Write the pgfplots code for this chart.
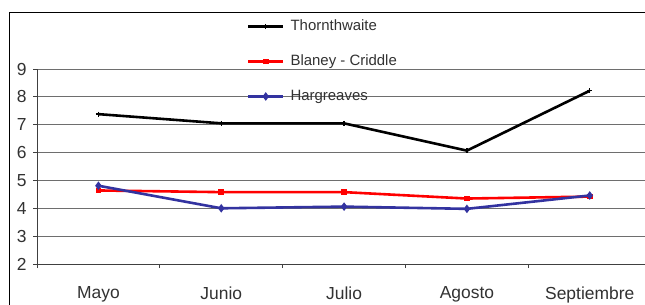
\documentclass[border=0pt]{standalone}
\usepackage{fontspec}
\setmainfont{Liberation Sans}
\usepackage{pgfplots}
\pgfplotsset{compat=1.18}
\definecolor{hblue}{RGB}{51,51,160}
\definecolor{gridc}{RGB}{110,110,110}
\definecolor{txt}{RGB}{50,50,50}
\begin{document}
\begin{tikzpicture}[x=1bp,y=1bp]
\useasboundingbox (0,0) rectangle (645,304);
\clip (0,0) rectangle (645,304);
\fill[white] (0,0) rectangle (645,304);
\draw[line width=1.3bp] (9.5,-10) -- (9.5,291.5) -- (660,291.5);
\begin{axis}[
  at={(37bp,40bp)}, anchor=south west,
  scale only axis, width=608bp, height=195bp,
  xmin=-0.5, xmax=4.45, ymin=2, ymax=9,
  ytick={2,...,9},
  xtick={-0.5,0.5,1.5,2.5,3.5},
  xticklabels={},
  extra x ticks={0,1,2,3,4},
  extra x tick labels={Mayo,Junio,Julio,Agosto,Septiembre},
  extra x tick style={major tick length=0pt, grid=none},
  ymajorgrids, grid style={draw=gridc, line width=0.9bp},
  axis x line*=bottom, axis y line*=left,
  every outer x axis line/.append style={-, draw=black!75, line width=0.9bp},
  every outer y axis line/.append style={-, draw=black!75, line width=0.9bp},
  tick align=outside, major tick length=4bp,
  tick style={draw=black!75, line width=0.9bp},
  /pgf/number format/assume math mode=true,
  yticklabel style={font=\fontsize{17.5}{20}\selectfont, text=txt, xshift=-3bp},
  xticklabel style={font=\fontsize{17.5}{20}\selectfont, text=txt, yshift=-19bp},
  legend style={at={(axis description cs:0.345,1.255)}, anchor=north west,
    draw=none, fill=none, inner sep=0pt, row sep=21bp, column sep=6bp,
    font=\fontsize{15}{17}\selectfont, text=txt,
    nodes={inner sep=0pt, text height=11bp, text depth=3bp}},
  legend cell align=left,
  legend image code/.code={\draw[#1, mark repeat=2, mark phase=2] plot coordinates {(0bp,0bp) (17.5bp,0bp) (35bp,0bp)};},
]
\addplot[black, line width=2.6bp, mark=+, mark size=2.5bp, mark options={line width=1.3bp}] coordinates {(0,7.38) (1,7.05) (2,7.05) (3,6.07) (4,8.22)};
\addlegendentry{Thornthwaite}
\addplot[red, line width=2.6bp, mark=square*, mark size=1.6bp] coordinates {(0,4.64) (1,4.58) (2,4.58) (3,4.35) (4,4.42)};
\addlegendentry{Blaney - Criddle}
\addplot[hblue, line width=2.6bp, mark=diamond*, mark size=2.2bp] coordinates {(0,4.81) (1,4.0) (2,4.06) (3,3.98) (4,4.46)};
\addlegendentry{Hargreaves}
\end{axis}
\end{tikzpicture}
\end{document}
